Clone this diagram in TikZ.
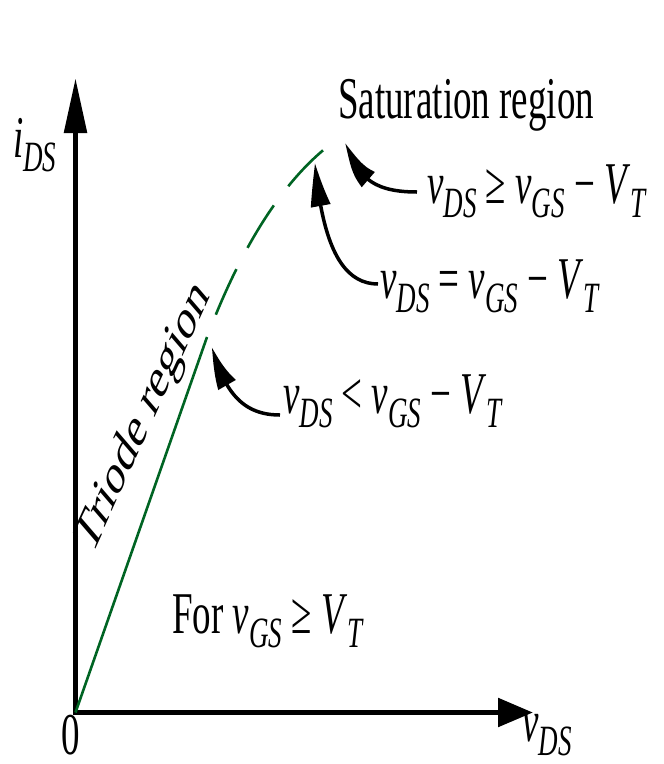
\documentclass[tikz,border=0pt]{standalone}
\usepackage{fontspec}
\setmainfont{Liberation Serif}
\usetikzlibrary{arrows.meta,bending}
\definecolor{trgreen}{RGB}{0,100,35}
\newcommand{\vvar}[1]{\textit{#1}}
\newcommand{\subs}[1]{\raisebox{-0.24em}{\fontsize{27}{27}\selectfont\textit{#1}}}
\begin{document}
\begin{tikzpicture}[x=1pt,y=1pt,
  lbl/.style={inner sep=0pt, font=\fontsize{37}{40}\selectfont, yscale=1.6},
  axis/.style={line width=5.5pt, line join=miter},
  trline/.style={line width=2.6pt, trgreen},
  callout/.style={line width=3.5pt, -{Triangle[length=46pt,width=19pt,bend]}}]
\useasboundingbox (0,0) rectangle (664,-764);
% axes
\coordinate (O) at (75.5,-712.5);
\coordinate (ytip) at (75.5,-78);
\coordinate (xtip) at (533,-712.5);
\draw[axis, {Triangle[length=55pt,width=22pt]}-{Triangle[length=35pt,width=28pt]}] (ytip) -- (O) -- (xtip);
% triode / saturation boundary curve
\coordinate (g1) at (207,-337);
\coordinate (g2) at (327,-147);
\draw[trline] (O) -- (g1);
\draw[trline, dash pattern=on 50pt off 24pt, dash phase=50pt] (g1) .. controls (240,-250) and (280,-185) .. (g2);
% labels
\node[lbl, anchor=base west] (iy) at (13,-157) {\vvar{i}\subs{DS}};
\node[lbl, anchor=base west] (zero) at (61,-754) {0};
\node[lbl, anchor=base west] (vx) at (522,-741) {\vvar{v}\subs{DS}};
\node[lbl, anchor=base west] (sat) at (338,-118) {Saturation region};
\node[lbl, anchor=base west] (c1) at (427,-203) {\vvar{v}\subs{DS} ≥ \vvar{v}\subs{GS} − \vvar{V}\subs{T}};
\node[lbl, anchor=base west] (c2) at (380,-298) {\vvar{v}\subs{DS} = \vvar{v}\subs{GS} − \vvar{V}\subs{T}};
\node[lbl, anchor=base west] (c3) at (283,-413) {\vvar{v}\subs{DS} < \vvar{v}\subs{GS} − \vvar{V}\subs{T}};
\node[lbl, anchor=base west] (cond) at (172,-633) {For \vvar{v}\subs{GS} ≥ \vvar{V}\subs{T}};
\node[lbl, rotate=54] (tri) at (144,-418) {Triode region};
% callout arrows
\coordinate (a1s) at (417,-192);
\coordinate (a1e) at (345,-143);
\coordinate (a2s) at (378,-284);
\coordinate (a2e) at (315,-163);
\coordinate (a3s) at (280,-415);
\coordinate (a3e) at (212,-347);
\draw[callout] (a1s) .. controls (362,-192) and (358,-168) .. (a1e);
\draw[callout] (a2s) .. controls (340,-284) and (322,-240) .. (a2e);
\draw[callout] (a3s) .. controls (245,-415) and (225,-395) .. (a3e);
\end{tikzpicture}
\end{document}
